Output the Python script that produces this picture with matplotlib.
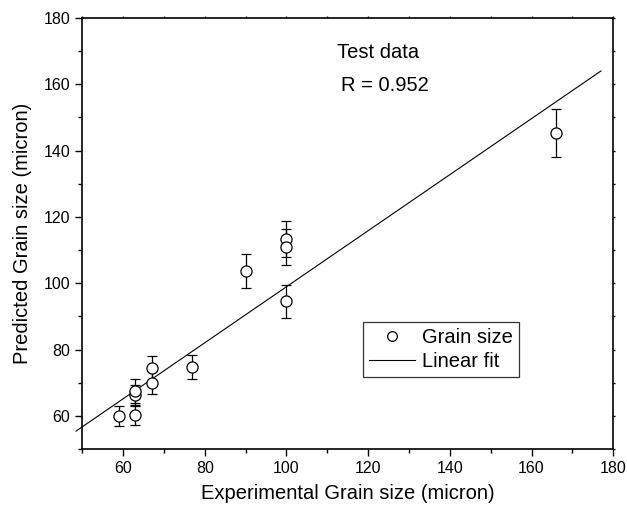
import matplotlib
matplotlib.use("Agg")
import matplotlib.pyplot as plt
from matplotlib.lines import Line2D
from matplotlib.ticker import MultipleLocator

plt.rcParams["font.family"] = ["Liberation Sans", "DejaVu Sans"]

# experimental vs predicted grain size (micron), with error bars
exp_size = [59, 63, 63, 63, 67, 67, 77, 90, 100, 100, 100, 166]
pred_size = [60.0, 60.3, 66.2, 67.5, 74.5, 70.0, 74.7, 103.7, 113.3, 110.9, 94.6, 145.3]
pred_err = [3.0, 3.0, 3.2, 3.5, 3.7, 3.5, 3.7, 5.0, 5.5, 5.5, 5.0, 7.3]

# linear fit line end points
fit_x = [48.5, 177.0]
fit_y = [55.4, 164.0]

fig = plt.figure(figsize=(6.27, 5.12), dpi=100)
ax = fig.add_axes([0.131, 0.123, 0.847, 0.842])

ax.errorbar(exp_size, pred_size, yerr=pred_err, fmt="o", ms=8, mfc="white",
            mec="black", mew=0.9, ecolor="black", elinewidth=0.9, capsize=3.8,
            capthick=0.9, zorder=3)
ax.plot(fit_x, fit_y, color="black", lw=0.8, clip_on=False)

ax.set_xlim(50, 180)
ax.set_ylim(50, 180)
ax.set_xticks(range(60, 181, 20))
ax.set_yticks(range(60, 181, 20))
ax.xaxis.set_minor_locator(MultipleLocator(10))
ax.yaxis.set_minor_locator(MultipleLocator(10))

ax.tick_params(which="both", direction="out", top=True, right=True, labelsize=11.5, width=1.0)
ax.tick_params(which="major", length=5)
ax.tick_params(which="minor", length=3)
# short ticks on top and right spines
for axis in (ax.xaxis, ax.yaxis):
    for t in axis.get_major_ticks() + axis.get_minor_ticks():
        t.tick2line.set_markersize(1.5)
for sp in ax.spines.values():
    sp.set_linewidth(1.2)

ax.set_xlabel("Experimental Grain size (micron)", fontsize=14.5, labelpad=6)
ax.set_ylabel("Predicted Grain size (micron)", fontsize=14.5, labelpad=8)

ax.text(0.558, 0.92, "Test data", transform=ax.transAxes, fontsize=14.5, ha="center", va="center")
ax.text(0.57, 0.843, "R = 0.952", transform=ax.transAxes, fontsize=14.5, ha="center", va="center")

handles = [
    Line2D([], [], ls="none", marker="o", ms=7, mfc="white", mec="black", mew=0.9),
    Line2D([], [], color="black", lw=0.8),
]
leg = ax.legend(handles, ["Grain size", "Linear fit"], loc="upper left",
                bbox_to_anchor=(0.529, 0.295), borderaxespad=0,
                fontsize=14.5, frameon=True, fancybox=False, edgecolor="black",
                handlelength=2.3, handletextpad=0.35, borderpad=0.3, labelspacing=0.25)
leg.get_frame().set_linewidth(0.9)

fig.savefig("out.png", dpi=100)
